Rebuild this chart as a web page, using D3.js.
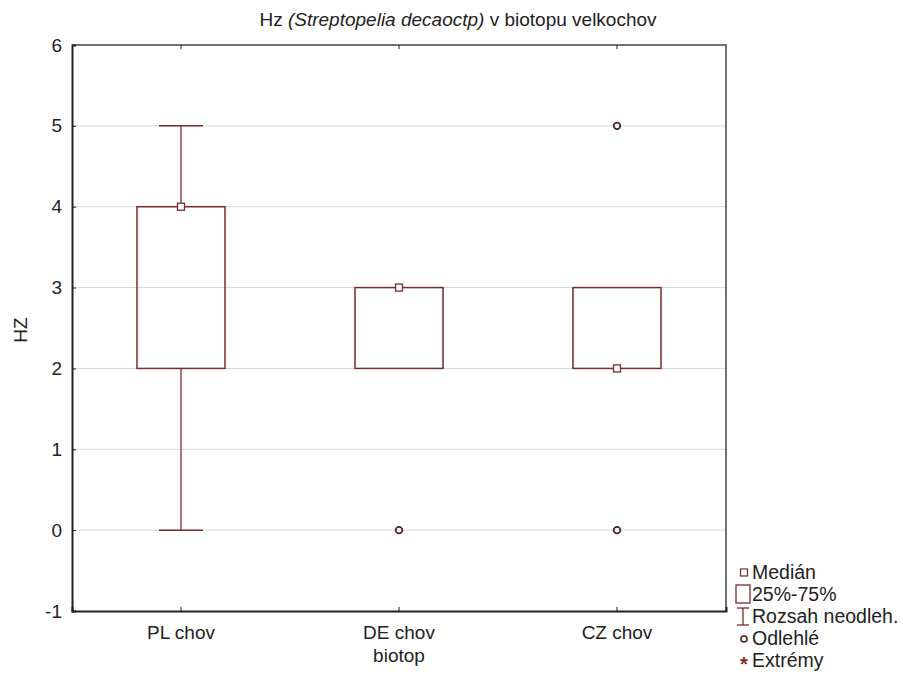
<!DOCTYPE html>
<html>
<head>
<meta charset="utf-8">
<script src="https://cdn.jsdelivr.net/npm/d3@7/dist/d3.min.js"></script>
<style>
  body { margin: 0; background: #fff; }
  svg text { font-family: "Liberation Sans", Arial, sans-serif; fill: #222; }
</style>
</head>
<body>
<svg id="chart" width="903" height="676"></svg>
<script>
// Box-plot summary per habitat
const categories = ["PL chov", "DE chov", "CZ chov"];
const medians   = [4, 3, 2];
const q1        = [2, 2, 2];
const q3        = [4, 3, 3];
const whiskLow  = [0, 2, 2];
const whiskHigh = [5, 3, 3];
const outliers  = [[], [0], [0, 5]];
const yTicks    = [-1, 0, 1, 2, 3, 4, 5, 6];
const legendItems = ["Medián", "25%-75%", "Rozsah neodleh.", "Odlehlé", "Extrémy"];

const markColor = "#7a2b2b";
const fontFam = '"Liberation Sans", Arial, sans-serif';
const svg = d3.select("#chart");
const m = { left: 72, right: 177, top: 45, bottom: 65 };
const W = 903, H = 676;

const x = d3.scaleBand().domain(categories).range([m.left, W - m.right]);
const y = d3.scaleLinear().domain([-1, 6]).range([H - m.bottom, m.top]);

// horizontal grid
svg.append("g").selectAll("line").data(yTicks.filter(t => t > -1 && t < 6)).join("line")
  .attr("x1", m.left).attr("x2", W - m.right)
  .attr("y1", d => y(d)).attr("y2", d => y(d))
  .attr("stroke", "#d4d4d4").attr("stroke-width", 1);

// frame (top/right)
svg.append("path")
  .attr("d", `M${m.left},${m.top}H${W - m.right}V${H - m.bottom}`)
  .attr("fill", "none").attr("stroke", "#444").attr("stroke-width", 1.5);

// left axis
const yAxis = d3.axisLeft(y).tickValues(yTicks).tickSize(-4).tickPadding(10).tickFormat(d => String(d));
const gy = svg.append("g").attr("transform", `translate(${m.left},0)`).call(yAxis);
gy.select(".domain").attr("stroke", "#222").attr("stroke-width", 2);
gy.selectAll(".tick line").attr("stroke", "#222");
gy.selectAll(".tick text").attr("font-size", 19).style("font-family", fontFam).attr("fill", "#222");

// bottom axis
const xAxis = d3.axisBottom(x).tickSize(-4).tickPadding(15);
const gx = svg.append("g").attr("transform", `translate(0,${H - m.bottom})`).call(xAxis);
gx.select(".domain").attr("stroke", "#222").attr("stroke-width", 2);
gx.selectAll(".tick line").attr("stroke", "#222");
gx.selectAll(".tick text").attr("font-size", 19).style("font-family", fontFam).attr("fill", "#222");

// top ticks
svg.append("g").selectAll("line").data(categories).join("line")
  .attr("x1", d => x(d) + x.bandwidth() / 2).attr("x2", d => x(d) + x.bandwidth() / 2)
  .attr("y1", m.top).attr("y2", m.top + 4).attr("stroke", "#222");

// boxes
const boxW = 88, capW = 44;
const gb = svg.append("g");
categories.forEach((c, i) => {
  const cx = x(c) + x.bandwidth() / 2;
  const g = gb.append("g");
  if (whiskHigh[i] > q3[i]) {
    g.append("line").attr("x1", cx).attr("x2", cx).attr("y1", y(q3[i])).attr("y2", y(whiskHigh[i])).attr("stroke", markColor).attr("stroke-width", 1.3);
    g.append("line").attr("x1", cx - capW / 2).attr("x2", cx + capW / 2).attr("y1", y(whiskHigh[i])).attr("y2", y(whiskHigh[i])).attr("stroke", markColor).attr("stroke-width", 1.5);
  }
  if (whiskLow[i] < q1[i]) {
    g.append("line").attr("x1", cx).attr("x2", cx).attr("y1", y(q1[i])).attr("y2", y(whiskLow[i])).attr("stroke", markColor).attr("stroke-width", 1.3);
    g.append("line").attr("x1", cx - capW / 2).attr("x2", cx + capW / 2).attr("y1", y(whiskLow[i])).attr("y2", y(whiskLow[i])).attr("stroke", markColor).attr("stroke-width", 1.5);
  }
  g.append("rect").attr("x", cx - boxW / 2).attr("width", boxW)
    .attr("y", y(q3[i])).attr("height", y(q1[i]) - y(q3[i]))
    .attr("fill", "none").attr("stroke", markColor).attr("stroke-width", 1.5);
  g.append("rect").attr("x", cx - 3.5).attr("y", y(medians[i]) - 3.5).attr("width", 7).attr("height", 7)
    .attr("fill", "#fff").attr("stroke", markColor).attr("stroke-width", 1.3);
  outliers[i].forEach(v => {
    g.append("circle").attr("cx", cx).attr("cy", y(v)).attr("r", 3.3)
      .attr("fill", "#fff").attr("stroke", "#4f2424").attr("stroke-width", 1.8);
  });
});

// title
const title = svg.append("text").attr("x", 458).attr("y", 26)
  .attr("text-anchor", "middle").attr("font-size", 19);
title.append("tspan").text("Hz ");
title.append("tspan").attr("font-style", "italic").text("(Streptopelia decaoctp)");
title.append("tspan").text(" v biotopu velkochov");

// axis titles
svg.append("text").attr("x", (m.left + W - m.right) / 2).attr("y", 662)
  .attr("text-anchor", "middle").attr("font-size", 19).text("biotop");
svg.append("text").attr("transform", "translate(27,330) rotate(-90)")
  .attr("text-anchor", "middle").attr("font-size", 19).text("HZ");

// legend
const lx = 744, ly0 = 572, lstep = 22;
const lg = svg.append("g");
legendItems.forEach((t, i) => {
  const yy = ly0 + i * lstep;
  lg.append("text").attr("x", lx + 8).attr("y", yy + 7).attr("font-size", 19.5).text(t);
  if (i === 0) {
    lg.append("rect").attr("x", lx - 3.5).attr("y", yy - 3).attr("width", 7).attr("height", 7)
      .attr("fill", "#fff").attr("stroke", markColor).attr("stroke-width", 1.2);
  } else if (i === 1) {
    lg.append("rect").attr("x", lx - 8).attr("y", yy - 9).attr("width", 14).attr("height", 18)
      .attr("fill", "#fff").attr("stroke", markColor).attr("stroke-width", 1.3);
  } else if (i === 2) {
    lg.append("line").attr("x1", lx - 7).attr("x2", lx + 5).attr("y1", yy - 8).attr("y2", yy - 8).attr("stroke", markColor).attr("stroke-width", 1.3);
    lg.append("line").attr("x1", lx - 1).attr("x2", lx - 1).attr("y1", yy - 8).attr("y2", yy + 9).attr("stroke", markColor).attr("stroke-width", 1.3);
    lg.append("line").attr("x1", lx - 7).attr("x2", lx + 5).attr("y1", yy + 9).attr("y2", yy + 9).attr("stroke", markColor).attr("stroke-width", 1.3);
  } else if (i === 3) {
    lg.append("circle").attr("cx", lx).attr("cy", yy + 1).attr("r", 3)
      .attr("fill", "#fff").attr("stroke", "#4f2424").attr("stroke-width", 1.6);
  } else {
    lg.append("text").attr("x", lx).attr("y", yy + 11).attr("text-anchor", "middle")
      .attr("font-size", 20).attr("font-weight", "bold").style("fill", markColor).text("*");
  }
});
</script>
</body>
</html>
